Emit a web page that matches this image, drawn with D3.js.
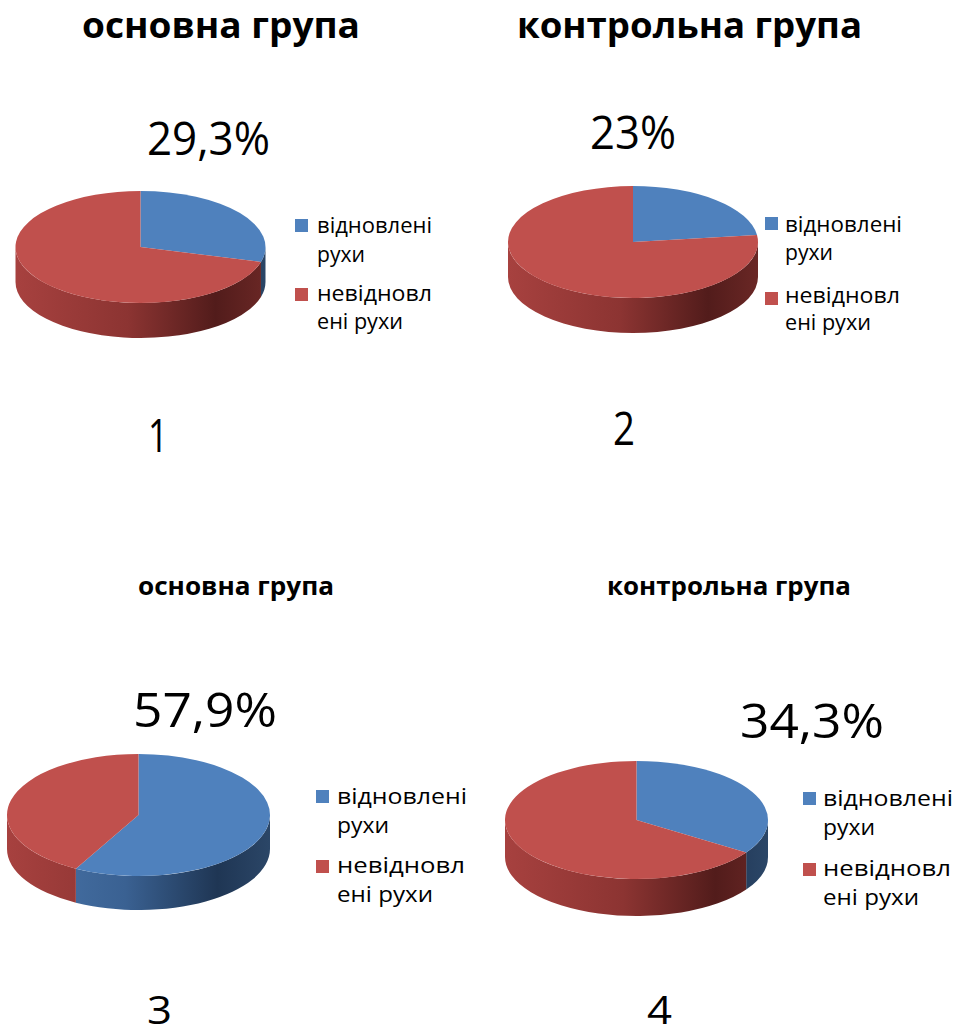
<!DOCTYPE html>
<html>
<head>
<meta charset="utf-8">
<script src="https://cdn.jsdelivr.net/npm/d3@7"></script>
<style>
  html, body { margin: 0; padding: 0; background: #fff; }
  svg { display: block; }
  text { font-family: "Open Sans", "Noto Sans", sans-serif; fill: #000; }
</style>
</head>
<body>
<svg id="chart" width="955" height="1035"></svg>
<script>
// ---- data ----
const categories = ["відновлені рухи", "невідновлені рухи"];
const legendLines = [["відновлені", "рухи"], ["невідновл", "ені рухи"]];
const chartTitles = ["основна група", "контрольна група", "основна група", "контрольна група"];
const chartNumbers = ["1", "2", "3", "4"];
const valueLabels = ["29,3%", "23%", "57,9%", "34,3%"];
const restoredValues = [29.3, 23, 57.9, 34.3];
const notRestoredValues = [70.7, 77, 42.1, 65.7];

// ---- layout (positions / styles) ----
const topColors = ["#4f81bd", "#c0504d"];
const sideStops = [
  [["0%", "#4a76ab"], ["45%", "#3a6192"], ["80%", "#1f3654"], ["100%", "#2b4667"]],
  [["0%", "#a7413f"], ["45%", "#8c3432"], ["80%", "#521c1b"], ["100%", "#6a2725"]]
];
const layouts = [
  { cx: 140.5, cy: 247, rx: 125, ry: 56, depth: 35,
    title: { x: 82, y: 38, w: 278, size: 36 },
    label: { x: 147, y: 155, w: 123, size: 45 },
    num: { x: 148, y: 452, w: 20, size: 45 },
    legend: { sx: 295, sy: [219, 288], sq: 13, tx: 317, tw: [[115, 48], [115, 86]], base: [[233, 262], [301, 329]], size: 21 } },
  { cx: 633, cy: 242, rx: 125, ry: 56, depth: 35,
    title: { x: 517, y: 38, w: 345, size: 36 },
    label: { x: 590, y: 149, w: 86, size: 45 },
    num: { x: 613, y: 445, w: 22, size: 45 },
    legend: { sx: 765, sy: [217, 292], sq: 13, tx: 785, tw: [[117, 48], [115, 86]], base: [[232, 260], [303, 330]], size: 21 } },
  { cx: 138.5, cy: 815, rx: 131.5, ry: 61, depth: 34,
    title: { x: 138, y: 595, w: 196, size: 25 },
    label: { x: 133, y: 727, w: 144, size: 48 },
    num: { x: 147, y: 1024, w: 25, size: 38 },
    legend: { sx: 316, sy: [790, 860], sq: 13, tx: 337, tw: [[130, 52], [128, 96]], base: [[804, 833], [873, 902]], size: 21 } },
  { cx: 636.5, cy: 820, rx: 131.5, ry: 59, depth: 37,
    title: { x: 607, y: 595, w: 244, size: 25 },
    label: { x: 740, y: 738, w: 144, size: 48 },
    num: { x: 647, y: 1024, w: 25, size: 38 },
    legend: { sx: 803, sy: [792, 863], sq: 13, tx: 823, tw: [[130, 52], [128, 96]], base: [[806, 835], [876, 905]], size: 21 } }
];

const svg = d3.select("#chart");
const defs = svg.append("defs");

const pie = d3.pie().sort(null).value(d => d);
const angle = d3.scaleLinear().domain([0, 2 * Math.PI]).range([0, 2 * Math.PI]);

layouts.forEach((L, i) => {
  const values = [restoredValues[i], notRestoredValues[i]];
  const arcs = pie(values);
  const g = svg.append("g");
  const P = (t, dy = 0) => [L.cx + L.rx * Math.sin(t), L.cy - L.ry * Math.cos(t) + dy];

  // gradients for sides
  sideStops.forEach((stops, k) => {
    const grad = defs.append("linearGradient")
      .attr("id", `side-${i}-${k}`)
      .attr("gradientUnits", "userSpaceOnUse")
      .attr("x1", L.cx - L.rx).attr("y1", 0)
      .attr("x2", L.cx + L.rx).attr("y2", 0);
    stops.forEach(s => grad.append("stop").attr("offset", s[0]).attr("stop-color", s[1]));
  });

  // sides (front half only)
  arcs.forEach((a, k) => {
    const a0 = angle(a.startAngle), a1 = angle(a.endAngle);
    const s0 = Math.max(a0, Math.PI / 2), s1 = Math.min(a1, 3 * Math.PI / 2);
    if (s1 <= s0) return;
    const p0 = P(s0), p1 = P(s1), q1 = P(s1, L.depth), q0 = P(s0, L.depth);
    const d = `M${p0}A${L.rx},${L.ry} 0 0 1 ${p1}L${q1}A${L.rx},${L.ry} 0 0 0 ${q0}Z`;
    g.append("path").attr("d", d).attr("fill", `url(#side-${i}-${k})`);
  });

  // tops
  arcs.forEach((a, k) => {
    const a0 = angle(a.startAngle), a1 = angle(a.endAngle);
    const large = (a1 - a0) > Math.PI ? 1 : 0;
    const d = `M${L.cx},${L.cy}L${P(a0)}A${L.rx},${L.ry} 0 ${large} 1 ${P(a1)}Z`;
    g.append("path").attr("d", d).attr("fill", topColors[k]);
  });

  // title
  svg.append("text").text(chartTitles[i])
    .attr("x", L.title.x).attr("y", L.title.y)
    .attr("font-size", L.title.size).attr("font-weight", "bold")
    .attr("textLength", L.title.w).attr("lengthAdjust", "spacingAndGlyphs");

  // value label
  svg.append("text").text(valueLabels[i])
    .attr("x", L.label.x).attr("y", L.label.y)
    .attr("font-size", L.label.size)
    .attr("textLength", L.label.w).attr("lengthAdjust", "spacingAndGlyphs");

  // number
  svg.append("text").text(chartNumbers[i])
    .attr("x", L.num.x).attr("y", L.num.y)
    .attr("font-size", L.num.size)
    .attr("textLength", L.num.w).attr("lengthAdjust", "spacingAndGlyphs");

  // legend
  categories.forEach((c, k) => {
    const lg = svg.append("g").attr("class", "legend-item").attr("data-category", c);
    lg.append("rect")
      .attr("x", L.legend.sx).attr("y", L.legend.sy[k])
      .attr("width", L.legend.sq).attr("height", L.legend.sq)
      .attr("fill", topColors[k]);
    legendLines[k].forEach((line, j) => {
      lg.append("text").text(line)
        .attr("x", L.legend.tx).attr("y", L.legend.base[k][j])
        .attr("font-size", L.legend.size)
        .attr("textLength", L.legend.tw[k][j]).attr("lengthAdjust", "spacingAndGlyphs");
    });
  });
});
</script>
</body>
</html>
